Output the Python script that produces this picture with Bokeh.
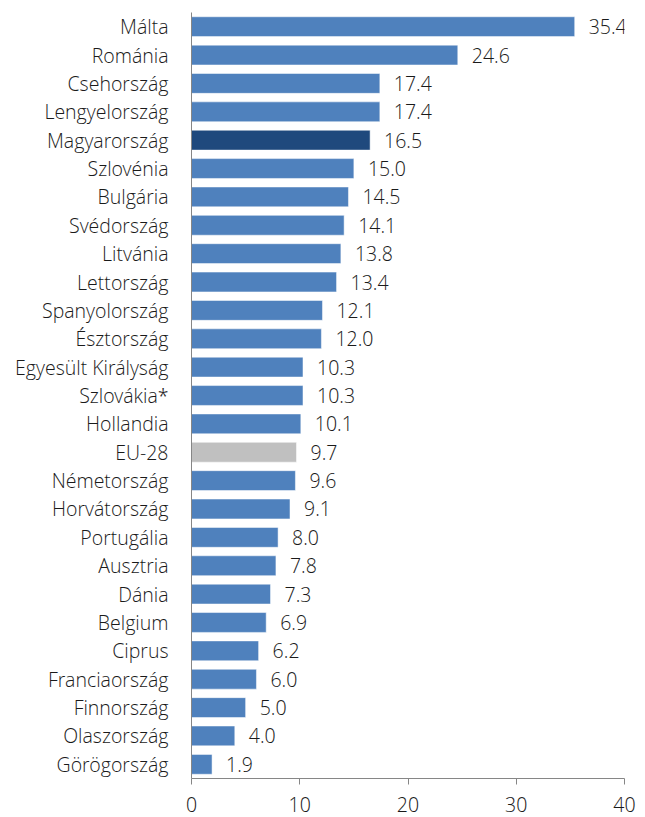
from bokeh.plotting import figure
from bokeh.models import ColumnDataSource, FactorRange, Range1d, FixedTicker
from bokeh.core.properties import value
from bokeh.embed import file_html
from bokeh.resources import INLINE

countries = ["Málta", "Románia", "Csehország", "Lengyelország", "Magyarország",
             "Szlovénia", "Bulgária", "Svédország", "Litvánia", "Lettország",
             "Spanyolország", "Észtország", "Egyesült Királyság", "Szlovákia*",
             "Hollandia", "EU-28", "Németország", "Horvátország", "Portugália",
             "Ausztria", "Dánia", "Belgium", "Ciprus", "Franciaország",
             "Finnország", "Olaszország", "Görögország"]
values = [35.4, 24.6, 17.4, 17.4, 16.5, 15.0, 14.5, 14.1, 13.8, 13.4,
          12.1, 12.0, 10.3, 10.3, 10.1, 9.7, 9.6, 9.1, 8.0, 7.8, 7.3,
          6.9, 6.2, 6.0, 5.0, 4.0, 1.9]
x_ticks = [0, 10, 20, 30, 40]

colors = []
for c in countries:
    if c == "Magyarország":
        colors.append("#1F497D")
    elif c == "EU-28":
        colors.append("#C0C0C0")
    else:
        colors.append("#4F81BD")

src = ColumnDataSource(dict(country=countries, val=values, color=colors,
                            label=[f"{v:.1f}" for v in values]))

FONT = "'Open Sans Light', 'Open Sans'"
FS = "19.5px"
TC = "#1a1a1a"
p = figure(y_range=FactorRange(factors=list(reversed(countries)), range_padding=0),
           x_range=Range1d(0, 40), width=643, height=817,
           output_backend="svg", toolbar_location=None,
           min_border_left=191, min_border_right=19, min_border_top=12,
           min_border_bottom=39)
p.hbar(y="country", right="val", left=0, height=0.7, color="color",
       line_color="white", line_width=0.5, source=src)
p.text(x="val", y="country", text="label", source=src, x_offset=14,
       text_baseline="middle", text_align="left", text_font=value(FONT),
       text_font_size=FS, text_color=TC)

p.xgrid.visible = False
p.ygrid.visible = False
p.outline_line_color = None

p.xaxis.ticker = FixedTicker(ticks=x_ticks)
p.xaxis.minor_tick_line_color = None
p.xaxis.major_tick_in = 0
p.xaxis.major_tick_out = 6
p.xaxis.major_tick_line_color = "#868686"
p.xaxis.axis_line_color = "#868686"
p.xaxis.major_label_text_font = FONT
p.xaxis.major_label_text_font_size = FS
p.xaxis.major_label_text_color = TC
p.xaxis.major_label_standoff = 12

p.yaxis.major_tick_line_color = None
p.yaxis.minor_tick_line_color = None
p.yaxis.axis_line_color = "#868686"
p.yaxis.major_label_text_font = FONT
p.yaxis.major_label_text_font_size = FS
p.yaxis.major_label_text_color = TC
p.yaxis.major_label_standoff = 17

open("out.html", "w").write(file_html(p, INLINE))
